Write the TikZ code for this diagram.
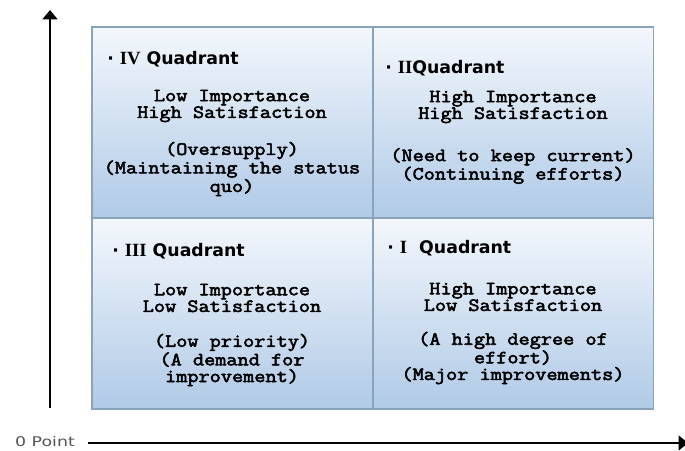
\documentclass[tikz,border=0pt]{standalone}
\usepackage{fontspec}
\usetikzlibrary{arrows.meta}
\newfontfamily\hdfont{DejaVu Sans}
\newfontfamily\bodyfont[FakeBold=2.8,FakeStretch=1.16]{Latin Modern Mono}
\newfontfamily\numfont{Liberation Serif}
\newfontfamily\ptfont[FakeStretch=1.3]{DejaVu Sans}
\definecolor{qtop}{HTML}{F3F7FC}
\definecolor{qbot}{HTML}{B0CAE6}
\definecolor{qedge}{HTML}{8AA3BD}
\definecolor{ptgray}{HTML}{555555}
\newcommand{\rn}[1]{{\numfont\bfseries\fontsize{14}{15}\selectfont #1}}
\begin{document}
\begin{tikzpicture}[x=0.75pt,y=-0.75pt,
  quad/.style={draw=qedge, line width=1pt, top color=qtop, bottom color=qbot,
    minimum width=210.5pt, minimum height=143.25pt, inner sep=0pt, outer sep=0pt, anchor=north west},
  qhead/.style={anchor=west, inner sep=0pt, font=\hdfont\bfseries\fontsize{13}{15}\selectfont},
  qbody/.style={align=center, inner sep=0pt, font=\bodyfont\fontsize{14}{12.5}\selectfont},
  axis/.style={line width=1.9pt, -{Triangle[width=11pt,length=7pt]}}
]
\useasboundingbox (0,0) rectangle (685,450);
% quadrants
\node[quad] (q4) at (92,27) {};
\node[quad] (q2) at (373,27) {};
\node[quad] (q3) at (92,218) {};
\node[quad] (q1) at (373,218) {};
% IV
\node[qhead] (h4) at (107,59) {·~\rn{IV} Quadrant};
\node[qbody] (b4a) at (232,106) {Low Importance\\High Satisfaction};
\node[qbody] (b4b) at (232,169) {(Oversupply)\\(Maintaining the status\\quo)};
% II
\node[qhead] (h2) at (385,68) {·~\rn{II}Quadrant};
\node[qbody] (b2a) at (513,107) {High Importance\\High Satisfaction};
\node[qbody] (b2b) at (513,166) {(Need to keep current)\\(Continuing efforts)};
% III
\node[qhead] (h3) at (112,251) {·~\rn{III} Quadrant};
\node[qbody] (b3a) at (232,298) {Low Importance\\Low Satisfaction};
\node[qbody] (b3b) at (232,360) {(Low priority)\\(A demand for\\improvement)};
% I
\node[qhead] (h1) at (387,248) {·~\rn{I}~~Quadrant};
\node[qbody] (b1a) at (513,297) {High Importance\\Low Satisfaction};
\node[qbody] (b1b) at (513,358) {(A high degree of\\effort)\\(Major improvements)};
% axes
\coordinate (yo) at (50,408);
\coordinate (yt) at (50,10);
\coordinate (xo) at (88,443);
\coordinate (xt) at (688,443);
\draw[axis] (yo) -- (yt);
\draw[axis, line width=1.5pt] (xo) -- (xt);
\node[font=\ptfont\fontsize{10}{12}\selectfont, text=ptgray, inner sep=0pt] (zp) at (45,442) {0 Point};
\end{tikzpicture}
\end{document}
